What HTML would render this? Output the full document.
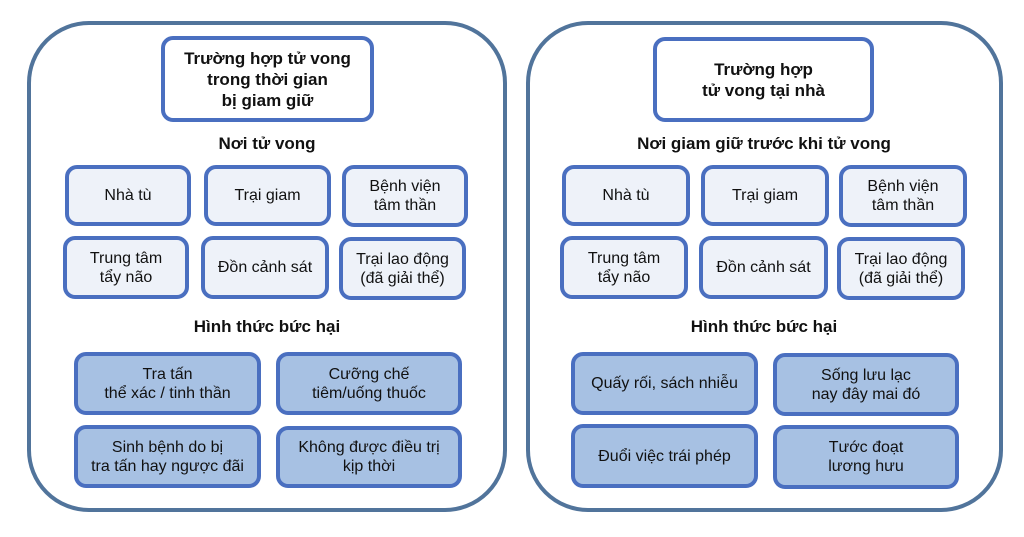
<!DOCTYPE html><html><head><meta charset="utf-8"><style>
body{margin:0;width:1024px;height:537px;background:#fff;position:relative;overflow:hidden;font-family:"Liberation Sans",Arial,sans-serif;color:#111}
.o{position:absolute;border:4px solid #51749b;border-radius:62px;box-sizing:border-box}
.b{position:absolute;box-sizing:border-box;border:4px solid #4a6fc0;border-radius:12px;display:flex;align-items:center;justify-content:center;text-align:center;font-size:16px;line-height:19px}
.s{background:#eef2f9}
.f{background:#a7c1e3}
.t{background:#fff;font-weight:bold;font-size:17px;line-height:21px}
.h{position:absolute;font-weight:bold;font-size:17px;text-align:center;width:300px}
</style></head><body>
<div class="o" style="left:27px;top:21px;width:480px;height:491px"></div>
<div class="o" style="left:526px;top:21px;width:477px;height:491px"></div>

<div class="b t" style="left:161px;top:36px;width:213px;height:86px">Trường hợp tử vong<br>trong thời gian<br>bị giam giữ</div>
<div class="h" style="left:117px;top:134px">Nơi tử vong</div>
<div class="b s" style="left:65px;top:165px;width:126px;height:61px">Nhà tù</div>
<div class="b s" style="left:204px;top:165px;width:127px;height:61px">Trại giam</div>
<div class="b s" style="left:342px;top:165px;width:126px;height:62px">Bệnh viện<br>tâm thần</div>
<div class="b s" style="left:63px;top:236px;width:126px;height:63px">Trung tâm<br>tẩy não</div>
<div class="b s" style="left:201px;top:236px;width:128px;height:63px">Đồn cảnh sát</div>
<div class="b s" style="left:339px;top:237px;width:127px;height:63px">Trại lao động<br>(đã giải thể)</div>
<div class="h" style="left:117px;top:317px">Hình thức bức hại</div>
<div class="b f" style="left:74px;top:352px;width:187px;height:63px">Tra tấn<br>thể xác / tinh thần</div>
<div class="b f" style="left:276px;top:352px;width:186px;height:63px">Cưỡng chế<br>tiêm/uống thuốc</div>
<div class="b f" style="left:74px;top:425px;width:187px;height:63px">Sinh bệnh do bị<br>tra tấn hay ngược đãi</div>
<div class="b f" style="left:276px;top:426px;width:186px;height:62px">Không được điều trị<br>kịp thời</div>

<div class="b t" style="left:653px;top:37px;width:221px;height:85px">Trường hợp<br>tử vong tại nhà</div>
<div class="h" style="left:614px;top:134px">Nơi giam giữ trước khi tử vong</div>
<div class="b s" style="left:562px;top:165px;width:128px;height:61px">Nhà tù</div>
<div class="b s" style="left:701px;top:165px;width:128px;height:61px">Trại giam</div>
<div class="b s" style="left:839px;top:165px;width:128px;height:62px">Bệnh viện<br>tâm thần</div>
<div class="b s" style="left:560px;top:236px;width:128px;height:63px">Trung tâm<br>tẩy não</div>
<div class="b s" style="left:699px;top:236px;width:129px;height:63px">Đồn cảnh sát</div>
<div class="b s" style="left:837px;top:237px;width:128px;height:63px">Trại lao động<br>(đã giải thể)</div>
<div class="h" style="left:614px;top:317px">Hình thức bức hại</div>
<div class="b f" style="left:571px;top:352px;width:187px;height:63px">Quấy rối, sách nhiễu</div>
<div class="b f" style="left:773px;top:353px;width:186px;height:63px">Sống lưu lạc<br>nay đây mai đó</div>
<div class="b f" style="left:571px;top:424px;width:187px;height:64px">Đuổi việc trái phép</div>
<div class="b f" style="left:773px;top:425px;width:186px;height:64px">Tước đoạt<br>lương hưu</div>
</body></html>
